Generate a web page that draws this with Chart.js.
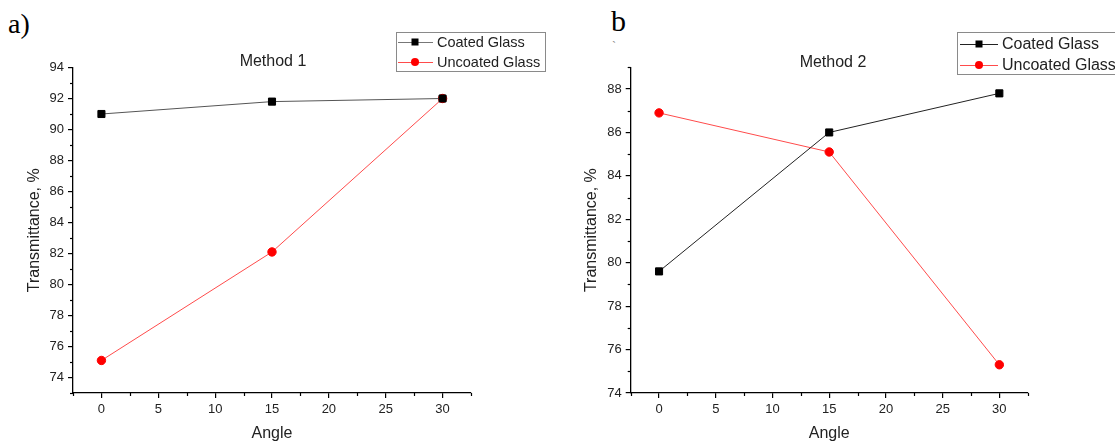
<!DOCTYPE html>
<html>
<head>
<meta charset="utf-8">
<script src="https://cdn.jsdelivr.net/npm/chart.js@4.4.1/dist/chart.umd.min.js"></script>
<style>
  html, body { margin: 0; padding: 0; background: #fff; }
  body { width: 1115px; height: 445px; position: relative; overflow: hidden;
         font-family: 'Liberation Sans', Arial, sans-serif; color: #222; }
  .panel { position: absolute; top: 0; height: 445px; }
  .panel canvas { display: block; }
  .tag { position: absolute; font-family: 'Liberation Serif', 'Times New Roman', serif; color: #000; line-height: 1; }
  .ttl { position: absolute; transform: translate(-50%, -50%); font-size: 16px; white-space: nowrap; color: #222; }
  .legend { position: absolute; border: 1px solid #8a8a8a; background: #fff; box-sizing: border-box; }
  .legend .row { position: absolute; left: 0; right: 0; height: 0; }
  .legend .ln { position: absolute; height: 0; border-top: 1px solid; }
  .legend .mk { position: absolute; transform: translate(-50%, -50%); }
  .legend .tx { position: absolute; transform: translateY(-50%); white-space: nowrap; color: #222; }
</style>
</head>
<body>

<div class="tag" style="left:8px; top:10px; font-size:28px;">a)</div>
<div class="tag" style="left:611px; top:6px; font-size:30px;">b</div>
<div class="tag" style="left:612px; top:40px; font-size:12px; color:#888;">`</div>

<div class="panel" style="left:0; width:557px;"><canvas id="chart1" width="557" height="445"></canvas></div>
<div class="panel" style="left:557px; width:558px;"><canvas id="chart2" width="558" height="445"></canvas></div>

<div class="ttl" id="title1" style="left:273px; top:61px;"></div>
<div class="ttl" id="title2" style="left:833px; top:62px;"></div>

<div class="legend" id="legend1" style="left:396px; top:32px; width:150px; height:40px;"></div>
<div class="legend" id="legend2" style="left:957px; top:32px; width:190px; height:43px;"></div>

<script>
/* ─── DATA ─── */
const ANGLES = [0, 15, 30];
const SERIES_NAMES = ['Coated Glass', 'Uncoated Glass'];
const PANEL_TITLES = ['Method 1', 'Method 2'];

const M1_COATED = [91.0, 91.8, 92.0];
const M1_UNCOATED = [75.1, 82.1, 92.0];
const M2_COATED = [79.6, 86.0, 87.8];
const M2_UNCOATED = [86.9, 85.1, 75.3];

const X_RANGE = [-2.5, 32.5];
const X_TICKS = [0, 5, 10, 15, 20, 25, 30];
const M1_Y_RANGE = [73, 94];
const M1_Y_TICKS = [74, 76, 78, 80, 82, 84, 86, 88, 90, 92, 94];
const M2_Y_RANGE = [74, 89];
const M2_Y_TICKS = [74, 76, 78, 80, 82, 84, 86, 88];

const X_TITLE = 'Angle';
const Y_TITLE = 'Transmittance, %';

const FONT = "'Liberation Sans', Arial, sans-serif";
const RED = '#ff4b4b';

/* ─── MINOR TICKS (origin-style) ─── */
const minorTicks = {
  id: 'minorTicks',
  afterDraw(chart, args, opts) {
    const ctx = chart.ctx;
    ctx.save();
    ctx.strokeStyle = '#000';
    ctx.lineWidth = 1.2;
    const xs = chart.scales.x, ys = chart.scales.y;
    for (let v = xs.min; v <= xs.max + 1e-9; v += opts.x) {
      if (Math.abs(v % opts.x2) < 1e-9) continue;
      const px = Math.round(xs.getPixelForValue(v)) + 0.5;
      ctx.beginPath();
      ctx.moveTo(px, xs.top);
      ctx.lineTo(px, xs.top + 3);
      ctx.stroke();
    }
    for (let v = ys.min; v <= ys.max + 1e-9; v += opts.y) {
      if (Math.abs(v % opts.y2) < 1e-9) continue;
      const py = Math.round(ys.getPixelForValue(v)) + 0.5;
      ctx.beginPath();
      ctx.moveTo(ys.right, py);
      ctx.lineTo(ys.right - 3, py);
      ctx.stroke();
    }
    ctx.restore();
  }
};

function toXY(vals) {
  return ANGLES.map((a, i) => ({ x: a, y: vals[i] }));
}

function makeChart(id, coated, uncoated, yRange, yTicks, coatedColor, area) {
  const ctx = document.getElementById(id).getContext('2d');
  const w = ctx.canvas.width, h = ctx.canvas.height;
  const axisStyle = {
    border: { display: true, color: '#000', width: 1.3 },
    grid: { display: true, drawOnChartArea: false, drawTicks: true, tickLength: 5, color: '#000', lineWidth: 1.2 }
  };
  return new Chart(ctx, {
    type: 'line',
    data: {
      datasets: [
        {
          label: SERIES_NAMES[0],
          data: toXY(coated),
          borderColor: coatedColor,
          borderWidth: 1,
          backgroundColor: '#000',
          pointStyle: 'rect',
          pointRadius: 5,
          pointBorderColor: '#000',
          pointBackgroundColor: '#000',
          pointBorderWidth: 1,
          tension: 0
        },
        {
          label: SERIES_NAMES[1],
          data: toXY(uncoated),
          borderColor: RED,
          borderWidth: 1,
          backgroundColor: '#f00',
          pointStyle: 'circle',
          pointRadius: 4.2,
          pointBorderColor: '#f00',
          pointBackgroundColor: '#f00',
          pointBorderWidth: 1,
          tension: 0
        }
      ]
    },
    options: {
      responsive: false,
      animation: false,
      layout: { padding: { left: area.titleX - 13.6, top: area.top, right: w - area.right, bottom: 0 } },
      plugins: {
        legend: { display: false },
        tooltip: { enabled: false },
        minorTicks: { x: 2.5, x2: 5, y: 1, y2: 2 }
      },
      scales: {
        x: {
          type: 'linear',
          min: X_RANGE[0],
          max: X_RANGE[1],
          ...axisStyle,
          afterBuildTicks: s => { s.ticks = X_TICKS.map(v => ({ value: v })); },
          ticks: { padding: 4, color: '#222', font: { family: FONT, size: 13 } },
          title: { display: true, text: X_TITLE, color: '#222', padding: { top: 0, bottom: 2 }, font: { family: FONT, size: 16 } },
          afterFit: s => { s.height = h - area.bottom; }
        },
        y: {
          min: yRange[0],
          max: yRange[1],
          ...axisStyle,
          afterBuildTicks: s => { s.ticks = yTicks.map(v => ({ value: v })); },
          ticks: { padding: 4, color: '#222', font: { family: FONT, size: 13 } },
          title: { display: true, text: Y_TITLE, color: '#222', padding: { top: 4, bottom: 4 }, font: { family: FONT, size: 16 } },
          afterFit: s => { s.width = area.left - (area.titleX - 13.6); }
        }
      }
    },
    plugins: [minorTicks]
  });
}

/* ─── LEGENDS (html) ─── */
function buildLegend(elId, lineColors, geo) {
  const box = document.getElementById(elId);
  SERIES_NAMES.forEach((name, i) => {
    const row = document.createElement('div');
    row.className = 'row';
    row.style.top = geo.rows[i] + 'px';
    const isSq = i === 0;
    const mkSize = isSq ? geo.sq : geo.dot;
    row.innerHTML =
      `<div class="ln" style="left:${geo.lineL}px;width:${geo.lineW}px;border-color:${lineColors[i]}"></div>` +
      `<div class="mk" style="left:${geo.mk}px;top:0;width:${mkSize}px;height:${mkSize}px;` +
      `background:${isSq ? '#000' : '#f00'};border-radius:${isSq ? 0 : '50%'}"></div>` +
      `<div class="tx" style="left:${geo.txt}px;top:0;font-size:${geo.fs}px">${name}</div>`;
    box.appendChild(row);
  });
}

document.getElementById('title1').textContent = PANEL_TITLES[0];
document.getElementById('title2').textContent = PANEL_TITLES[1];

makeChart('chart1', M1_COATED, M1_UNCOATED, M1_Y_RANGE, M1_Y_TICKS, '#555',
  { left: 73, right: 471, top: 67.5, bottom: 393, titleX: 35 });
makeChart('chart2', M2_COATED, M2_UNCOATED, M2_Y_RANGE, M2_Y_TICKS, '#222',
  { left: 73.7, right: 470.7, top: 67.3, bottom: 393, titleX: 34.7 });

buildLegend('legend1', ['#777', RED], { rows: [9, 28.5], lineL: 1, lineW: 35, mk: 18, txt: 40, fs: 14.5, sq: 7, dot: 8 });
buildLegend('legend2', ['#222', RED], { rows: [10.5, 31.5], lineL: 2, lineW: 38, mk: 21, txt: 44, fs: 16, sq: 7, dot: 8 });
</script>
</body>
</html>
